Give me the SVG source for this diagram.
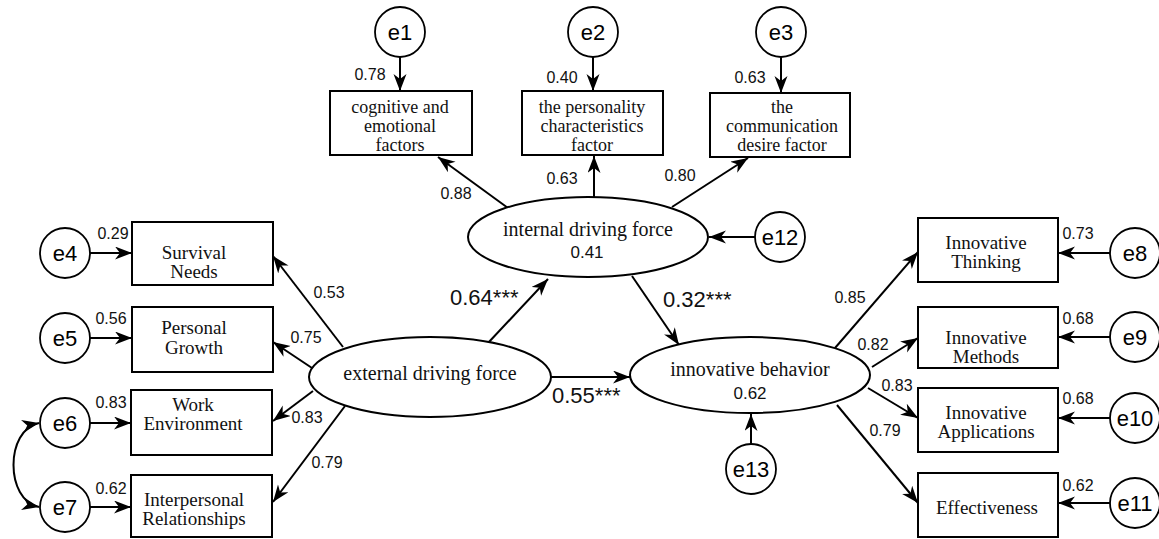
<svg xmlns="http://www.w3.org/2000/svg" width="1159" height="539" viewBox="0 0 1159 539">
<style>
.box{fill:#fff;stroke:#000;stroke-width:2}
.lat{fill:#fff;stroke:#000;stroke-width:2}
.err{fill:#fff;stroke:#000;stroke-width:1.8}
.conn line,.conn path{stroke:#000;stroke-width:2;fill:none;marker-end:url(#ah)}
.t{font-family:"Liberation Serif",serif;font-size:19px;text-anchor:middle;fill:#111}
.ts{font-size:18px}
.el{font-size:20px}
.n{font-family:"Liberation Sans",Arial,sans-serif;font-size:16px;text-anchor:middle;fill:#111}
.e{font-family:"Liberation Sans",Arial,sans-serif;font-size:22px;text-anchor:middle;fill:#000}
.big{font-family:"Liberation Sans",Arial,sans-serif;font-size:22px;fill:#111}
</style>
<defs>
<marker id="ah" markerUnits="userSpaceOnUse" markerWidth="18" markerHeight="14" refX="17" refY="6.5" orient="auto-start-reverse">
<path d="M0,0 L17,6.5 L0,13 L5,6.5 z" fill="#000"/>
</marker>
</defs>
<rect width="1159" height="539" fill="#fff"/>

<g class="conn" id="connectors">
<line x1="400" y1="57" x2="400" y2="91"/>
<line x1="593" y1="57" x2="593" y2="91"/>
<line x1="781" y1="57" x2="781" y2="93"/>
<line x1="508" y1="208" x2="438" y2="157"/>
<line x1="594" y1="197" x2="594" y2="156"/>
<line x1="672" y1="207" x2="748" y2="158"/>
<line x1="755" y1="237" x2="709" y2="237"/>
<line x1="90" y1="253" x2="132" y2="253"/>
<line x1="90" y1="338" x2="132" y2="338"/>
<line x1="90" y1="423" x2="131" y2="423"/>
<line x1="90" y1="507" x2="131" y2="507"/>
<path d="M39,423 C5,430 5,500 39,507" style="marker-start:url(#ah)"/>
<line x1="343" y1="347" x2="273" y2="256"/>
<line x1="312" y1="368" x2="273" y2="342"/>
<line x1="313" y1="391" x2="273" y2="421"/>
<line x1="345" y1="406" x2="273" y2="502"/>
<line x1="488" y1="343" x2="548" y2="279"/>
<line x1="551" y1="377" x2="630" y2="377"/>
<line x1="632" y1="276" x2="679" y2="345"/>
<line x1="751" y1="444" x2="751" y2="414"/>
<line x1="835" y1="348" x2="918" y2="252"/>
<line x1="872" y1="367" x2="918" y2="338"/>
<line x1="868" y1="388" x2="918" y2="418"/>
<line x1="837" y1="405" x2="918" y2="503"/>
<line x1="1110" y1="253" x2="1058" y2="253"/>
<line x1="1110" y1="337" x2="1058" y2="337"/>
<line x1="1110" y1="418" x2="1058" y2="418"/>
<line x1="1110" y1="503" x2="1058" y2="503"/>
</g>

<g id="labels">
<text class="n" x="370" y="80">0.78</text>
<text class="n" x="562" y="83">0.40</text>
<text class="n" x="750" y="83">0.63</text>
<text class="n" x="456" y="199">0.88</text>
<text class="n" x="562" y="184">0.63</text>
<text class="n" x="680" y="181">0.80</text>
<text class="n" x="113" y="239">0.29</text>
<text class="n" x="111" y="324">0.56</text>
<text class="n" x="111" y="408">0.83</text>
<text class="n" x="111" y="494">0.62</text>
<text class="n" x="329" y="298">0.53</text>
<text class="n" x="306" y="343">0.75</text>
<text class="n" x="307" y="423">0.83</text>
<text class="n" x="327" y="468">0.79</text>
<text class="big" x="450" y="305">0.64***</text>
<text class="big" x="552" y="403">0.55***</text>
<text class="big" x="663" y="307">0.32***</text>
<text class="n" x="850" y="303">0.85</text>
<text class="n" x="873" y="350">0.82</text>
<text class="n" x="897" y="391">0.83</text>
<text class="n" x="885" y="436">0.79</text>
<text class="n" x="1078" y="239">0.73</text>
<text class="n" x="1078" y="324">0.68</text>
<text class="n" x="1078" y="404">0.68</text>
<text class="n" x="1078" y="491">0.62</text>
</g>

<g id="e1"><circle class="err" cx="400" cy="32" r="25"/><text class="e" x="400" y="40">e1</text></g>
<g id="e2"><circle class="err" cx="593" cy="32" r="25"/><text class="e" x="593" y="40">e2</text></g>
<g id="e3"><circle class="err" cx="781" cy="32" r="25"/><text class="e" x="781" y="40">e3</text></g>
<g id="e4"><circle class="err" cx="65" cy="253" r="25"/><text class="e" x="65" y="261">e4</text></g>
<g id="e5"><circle class="err" cx="65" cy="338" r="25"/><text class="e" x="65" y="346">e5</text></g>
<g id="e6"><circle class="err" cx="65" cy="423" r="25"/><text class="e" x="65" y="431">e6</text></g>
<g id="e7"><circle class="err" cx="65" cy="507" r="25"/><text class="e" x="65" y="515">e7</text></g>
<g id="e8"><circle class="err" cx="1135" cy="253" r="25"/><text class="e" x="1135" y="261">e8</text></g>
<g id="e9"><circle class="err" cx="1135" cy="337" r="25"/><text class="e" x="1135" y="345">e9</text></g>
<g id="e10"><circle class="err" cx="1135" cy="418" r="25"/><text class="e" x="1135" y="426">e10</text></g>
<g id="e11"><circle class="err" cx="1135" cy="503" r="25"/><text class="e" x="1135" y="511">e11</text></g>
<g id="e12"><circle class="err" cx="780" cy="237" r="25"/><text class="e" x="780" y="245">e12</text></g>
<g id="e13"><circle class="err" cx="751" cy="469" r="25"/><text class="e" x="751" y="477">e13</text></g>

<g id="cognitive"><rect class="box" x="330" y="91" width="142" height="64"/>
<text class="t ts" x="400" y="113">cognitive and</text><text class="t ts" x="400" y="132">emotional</text><text class="t ts" x="400" y="151">factors</text></g>
<g id="personality"><rect class="box" x="522" y="91" width="141" height="64"/>
<text class="t ts" x="592" y="113">the personality</text><text class="t ts" x="592" y="132">characteristics</text><text class="t ts" x="592" y="151">factor</text></g>
<g id="communication"><rect class="box" x="710" y="93" width="140" height="64"/>
<text class="t ts" x="782" y="113">the</text><text class="t ts" x="782" y="132">communication</text><text class="t ts" x="782" y="151">desire factor</text></g>

<g id="internal"><ellipse class="lat" cx="588" cy="237" rx="120" ry="40"/>
<text class="t el" x="588" y="236">internal driving force</text><text class="n" x="587" y="258" style="font-size:17px">0.41</text></g>
<g id="external"><ellipse class="lat" cx="430" cy="377" rx="121" ry="40"/>
<text class="t el" x="430" y="380">external driving force</text></g>
<g id="innovative"><ellipse class="lat" cx="750" cy="375" rx="120" ry="38"/>
<text class="t el" x="750" y="376">innovative behavior</text><text class="n" x="750" y="399" style="font-size:17px">0.62</text></g>

<g id="survival"><rect class="box" x="132" y="222" width="141" height="63"/>
<text class="t" x="194" y="259">Survival</text><text class="t" x="194" y="278">Needs</text></g>
<g id="personal"><rect class="box" x="132" y="307" width="141" height="65"/>
<text class="t" x="194" y="334">Personal</text><text class="t" x="194" y="354">Growth</text></g>
<g id="work"><rect class="box" x="131" y="390" width="141" height="65"/>
<text class="t" x="193" y="411">Work</text><text class="t" x="193" y="430">Environment</text></g>
<g id="interpersonal"><rect class="box" x="131" y="475" width="141" height="62"/>
<text class="t" x="194" y="506">Interpersonal</text><text class="t" x="194" y="525">Relationships</text></g>

<g id="thinking"><rect class="box" x="918" y="218" width="140" height="64"/>
<text class="t" x="986" y="249">Innovative</text><text class="t" x="986" y="268">Thinking</text></g>
<g id="methods"><rect class="box" x="918" y="307" width="140" height="61"/>
<text class="t" x="986" y="344">Innovative</text><text class="t" x="986" y="363">Methods</text></g>
<g id="applications"><rect class="box" x="918" y="388" width="140" height="64"/>
<text class="t" x="986" y="419">Innovative</text><text class="t" x="986" y="438">Applications</text></g>
<g id="effectiveness"><rect class="box" x="918" y="473" width="140" height="64"/>
<text class="t" x="987" y="514">Effectiveness</text></g>
</svg>
